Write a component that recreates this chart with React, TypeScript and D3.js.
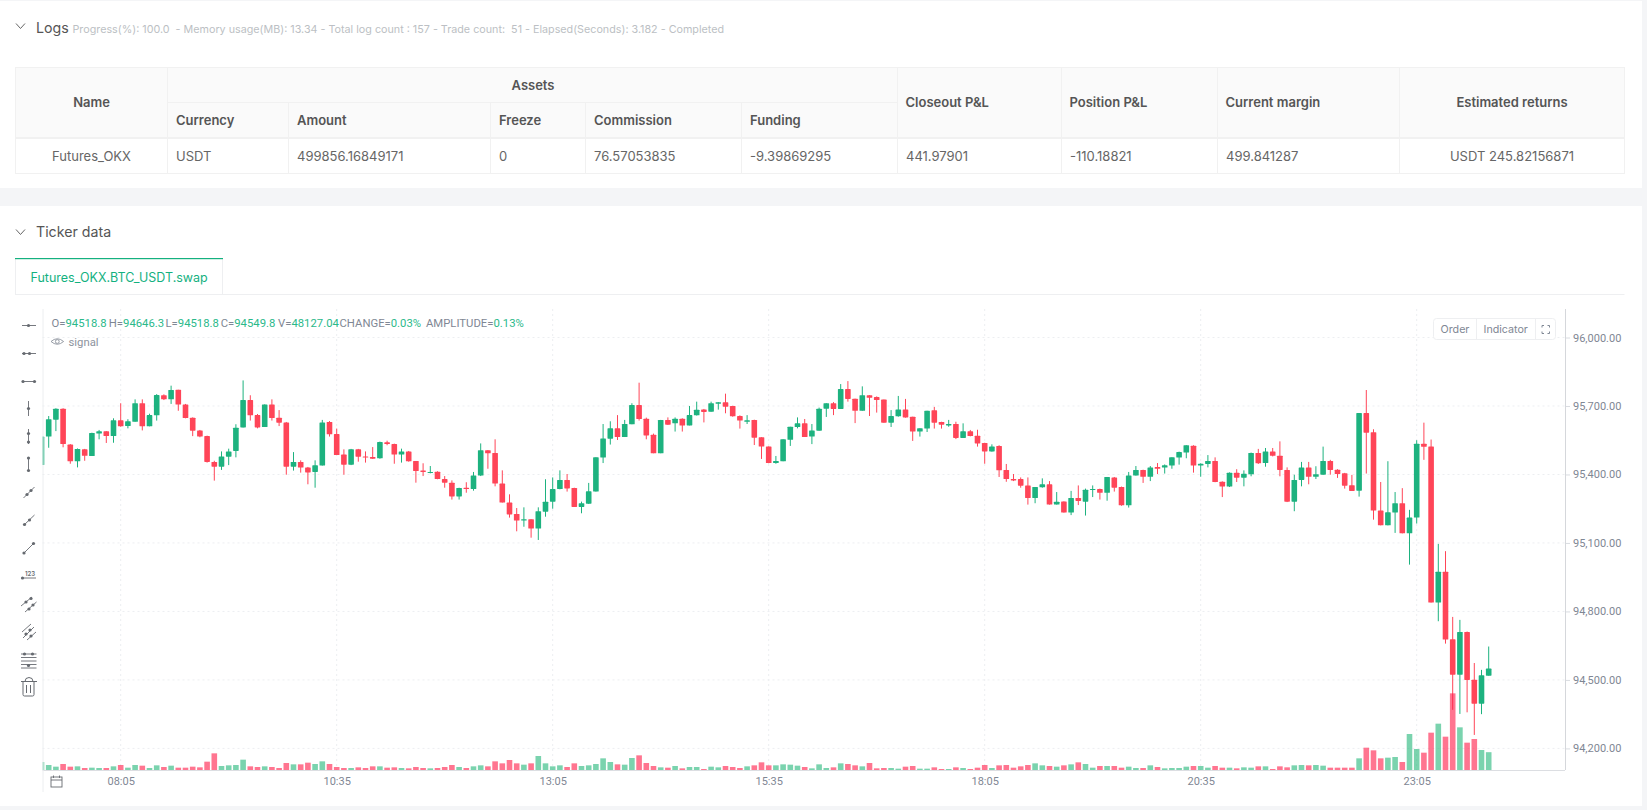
import React, { useEffect, useRef } from 'react';
import * as d3 from 'd3';

// candle index 0 is the 08:05 bar, the first ones sit left of it (5 min bars)
const firstIndex = -11;

const highs = [
  95566,95656,95690,95690,95533,95514,95512,95583,95595,95590,95646,
  95712,95642,95729,95729,95666,95752,95751,95789,95771,95709,
  95650,95595,95570,95460,95501,95513,95620,95812,95747,95665,
  95707,95729,95682,95630,95498,95462,95433,95462,95639,95634,
  95601,95510,95512,95512,95501,95520,95544,95548,95535,95513,
  95503,95459,95449,95437,95414,95393,95374,95342,95366,95411,
  95536,95507,95554,95418,95313,95253,95256,95204,95256,95379,
  95387,95418,95402,95342,95281,95363,95475,95621,95633,95660,
  95639,95712,95802,95649,95579,95639,95650,95650,95646,95700,
  95719,95687,95719,95717,95754,95701,95659,95660,95640,95563,
  95523,95481,95554,95609,95650,95643,95621,95693,95712,95717,
  95796,95809,95732,95786,95747,95742,95728,95682,95744,95731,
  95653,95602,95679,95696,95631,95639,95631,95624,95595,95596,
  95539,95532,95528,95446,95402,95387,95387,95345,95383,95371,
  95323,95282,95328,95352,95338,95352,95338,95389,95389,95347,
  95411,95437,95421,95437,95450,95444,95475,95500,95528,95528,
  95449,95485,95475,95370,95409,95423,95418,95496,95512,95516,
  95516,95545,95431,95399,95455,95455,95436,95522,95464,95423,
  95407,95398,95669,95770,95598,95367,95458,95323,95340,95245,
  95550,95627,95553,95096,95064,94776,94763,94712,94574,94544,94646.3,
];

const opens = [
  95441,95566,95640,95688,95531,95458,95510,95481,95579,95589,95568,
  95637,95612,95631,95712,95611,95659,95747,95729,95771,95707,
  95649,95593,95568,95455,95434,95478,95503,95606,95726,95660,
  95608,95707,95649,95628,95434,95455,95431,95411,95439,95630,
  95577,95487,95443,95510,95479,95477,95471,95541,95533,95487,
  95501,95459,95417,95408,95412,95380,95364,95304,95342,95336,
  95395,95506,95494,95360,95277,95227,95198,95204,95163,95237,
  95281,95336,95376,95341,95258,95272,95325,95474,95557,95602,
  95564,95620,95704,95644,95574,95493,95639,95624,95644,95615,
  95659,95685,95675,95710,95716,95700,95656,95631,95639,95563,
  95523,95450,95458,95552,95608,95624,95566,95592,95688,95712,
  95687,95774,95732,95679,95747,95739,95728,95627,95655,95685,
  95653,95588,95601,95681,95630,95615,95621,95560,95589,95570,
  95538,95501,95525,95420,95380,95380,95352,95297,95344,95357,
  95268,95282,95233,95297,95281,95332,95336,95320,95387,95345,
  95265,95395,95420,95390,95433,95430,95439,95474,95496,95526,
  95439,95446,95459,95368,95347,95408,95386,95401,95494,95450,
  95501,95482,95420,95281,95376,95431,95390,95399,95459,95421,
  95405,95353,95329,95669,95585,95242,95177,95233,95274,95142,
  95211,95535,95523,94839,94974,94678,94523,94710,94501,94396,94518.8,
];

const closes = [
  95566,95642,95688,95533,95458,95512,95482,95582,95589,95568,95637,
  95611,95633,95712,95611,95660,95748,95729,95770,95706,95647,
  95592,95566,95455,95434,95479,95501,95605,95726,95659,95606,
  95707,95647,95627,95434,95455,95430,95409,95440,95628,95576,
  95485,95443,95510,95478,95474,95469,95542,95533,95487,95501,
  95458,95415,95411,95411,95380,95364,95304,95341,95336,95396,
  95506,95493,95360,95277,95225,95198,95204,95163,95239,95281,
  95336,95376,95339,95258,95274,95326,95475,95558,95602,95564,
  95621,95704,95643,95571,95493,95639,95618,95644,95614,95660,
  95684,95674,95712,95716,95697,95655,95636,95637,95561,95522,
  95450,95459,95554,95609,95624,95564,95593,95688,95712,95687,
  95774,95731,95679,95747,95736,95726,95627,95656,95685,95650,
  95588,95602,95679,95627,95618,95621,95560,95589,95568,95536,
  95501,95522,95418,95380,95374,95351,95297,95345,95357,95268,
  95281,95233,95297,95284,95333,95336,95320,95389,95342,95265,
  95396,95420,95390,95431,95425,95440,95475,95498,95528,95439,
  95447,95459,95367,95347,95408,95386,95403,95494,95449,95501,
  95482,95420,95281,95376,95431,95390,95401,95459,95420,95402,
  95351,95328,95669,95583,95242,95177,95234,95274,95142,95211,
  95535,95521,94839,94974,94677,94523,94710,94500,94396,94520,94549.8,
];

const lows = [
  95441,95517,95590,95519,95447,95431,95460,95481,95554,95538,95539,
  95609,95602,95631,95593,95611,95636,95726,95709,95679,95646,
  95568,95563,95452,95373,95420,95441,95475,95606,95636,95602,
  95608,95636,95612,95399,95417,95408,95357,95342,95439,95566,
  95485,95399,95441,95456,95452,95468,95469,95528,95447,95452,
  95456,95364,95393,95405,95379,95342,95290,95290,95320,95329,
  95393,95425,95348,95277,95211,95151,95171,95123,95113,95215,
  95250,95335,95325,95258,95230,95271,95325,95450,95531,95551,
  95564,95620,95636,95554,95493,95493,95617,95588,95588,95615,
  95658,95628,95675,95684,95668,95653,95601,95621,95529,95468,
  95449,95447,95458,95525,95602,95564,95533,95592,95652,95660,
  95687,95719,95625,95679,95656,95671,95627,95608,95653,95649,
  95547,95566,95586,95601,95601,95609,95555,95560,95567,95522,
  95447,95500,95389,95368,95371,95342,95268,95274,95342,95268,
  95268,95233,95222,95266,95220,95301,95290,95285,95325,95263,
  95255,95395,95363,95371,95402,95404,95425,95443,95471,95408,
  95390,95431,95366,95301,95345,95367,95348,95392,95446,95434,
  95479,95392,95279,95239,95348,95357,95380,95399,95399,95385,
  95338,95328,95303,95404,95202,95177,95177,95144,95142,95005,
  95185,95464,94839,94757,94659,94369,94351,94358,94259,94350,94518.8,
];

// volume in thousands
const volumes = [
  21.6,13.5,9,16.2,9,9.9,5.4,6.3,5.4,5.4,9.9,
  13.5,6.3,13.5,11.7,5.4,12.6,8.1,11.7,6.3,6.3,
  9,7.2,22.5,45,10.8,12.6,13.5,27.9,9.9,8.1,
  9.9,8.1,5.4,18.9,15.3,15.3,19.8,16.2,23.4,16.2,
  8.1,5.4,5.4,7.2,5.4,9.9,9.9,6.3,7.2,5.4,
  4.5,8.1,5.4,4.5,5.4,8.1,13.5,8.1,5.4,9.9,
  12.6,9.9,23.4,18,27,18,14.4,18,37.8,18,
  9.9,12.6,8.1,18,10.8,12.6,16.2,31.5,21.6,15.3,
  14.4,32.4,39.6,18.9,10.8,7.2,6.3,10.8,4.5,8.1,
  8.1,2.7,9,7.2,10.8,8.1,5.4,9.9,12.6,20.7,
  12.6,12.6,15.3,14.4,11.7,8.1,4.5,15.3,5.4,7.2,
  18,16.2,12.6,9.9,18.9,4.5,5.4,5.4,3.6,9,
  10.8,3.6,3.6,7.2,2.7,2.7,7.2,5.4,2.7,6.3,
  13.5,5.4,12.6,13.5,6.3,9.9,13.5,18,12.6,10.8,
  9,12.6,15.3,20.7,16.2,6.3,10.8,10.8,10.8,6.3,
  9,5.4,5.4,12.6,8.1,4.5,5.4,5.4,9,10.8,
  10.8,6.3,10.8,6.3,6.3,4.5,7.2,6.3,9.9,9.9,
  2.7,9.9,7.2,12.6,13.5,12.6,13.5,11.7,6.3,6.3,
  6.3,6.3,31.5,60.3,53.1,31.5,33.3,35.1,21.6,97.2,
  56.7,46.8,100.8,125.1,90,207,115.2,73.8,83.7,54,48.1,
];

const priceTicks = [96000, 95700, 95400, 95100, 94800, 94500, 94200];
const timeTickIndex = [0, 30, 60, 90, 120, 150, 180];
const timeTickLabels = ['08:05', '10:35', '13:05', '15:35', '18:05', '20:35', '23:05'];

const tableHeadTop = ['Name', 'Assets', 'Closeout P&L', 'Position P&L', 'Current margin', 'Estimated returns'];
const tableHeadSub = ['Currency', 'Amount', 'Freeze', 'Commission', 'Funding'];
const tableRow = ['Futures_OKX', 'USDT', '499856.16849171', '0', '76.57053835', '-9.39869295', '441.97901', '-110.18821', '499.841287', 'USDT 245.82156871'];
const colEdges = [15.5, 167.5, 288.5, 490.5, 585.5, 741.5, 897.5, 1061.5, 1217.5, 1399.5, 1624.5];

const legendParts: [string, string][] = [
  ['O=', '94518.8'], ['H=', '94646.3'], ['L=', '94518.8'], ['C=', '94549.8'],
  ['V=', '48127.04'], ['CHANGE=', '0.03%'], ['AMPLITUDE=', '0.13%'],
];
const legendX = [51.5, 108.8, 165.5, 220.7, 278, 339.5, 426];

const FONT = 'Inter, "Noto Sans", sans-serif';
const AXIS_FONT = 'Roboto, "Noto Sans", sans-serif';
const UP = '#1db27f';
const DOWN = '#ff4558';
const UP_VOL = '#21b678';
const DOWN_VOL = '#ff1946';
const GRID = '#eceef1';
const AXIS_TEXT = '#7f8794';

const LEFT = 42.5;
const RIGHT = 1565;
const TOP = 309;
const BOTTOM = 770;

// drawing toolbar
const ink = '#666a70';
const Dot = ({ x, y }: { x: number; y: number }) => <circle cx={x} cy={y} r={1.6} fill={ink} />;
const Seg = ({ a, b, c, d }: { a: number; b: number; c: number; d: number }) => (
  <line x1={a} y1={b} x2={c} y2={d} stroke={ink} strokeWidth={0.9} />
);

const Toolbar = () => {
  const cx = 28.5;
  return (
    <g>
      <Seg a={22} b={325.5} c={36} d={325.5} /><Dot x={cx} y={325.5} />
      <Seg a={22} b={353.5} c={36} d={353.5} /><Dot x={24} y={353.5} /><Dot x={29.5} y={353.5} />
      <Seg a={22} b={381.5} c={35} d={381.5} /><Dot x={23} y={381.5} /><Dot x={34.5} y={381.5} />
      <Seg a={cx} b={401} c={cx} d={416} /><Dot x={cx} y={408.5} />
      <Seg a={cx} b={429} c={cx} d={444} /><Dot x={cx} y={433.5} /><Dot x={cx} y={442} />
      <Seg a={cx} b={458} c={cx} d={470} /><Dot x={cx} y={458} /><Dot x={cx} y={470.5} />
      <Seg a={23.5} b={498} c={34.5} d={487} /><Dot x={27} y={494.5} /><Dot x={31} y={490.5} />
      <Seg a={24} b={525} c={34.5} d={515} /><Dot x={24.5} y={524.5} /><Dot x={29.5} y={520} />
      <Seg a={24} b={553} c={33.5} d={543.5} /><Dot x={24} y={553} /><Dot x={33.5} y={543.5} />
      <Seg a={22} b={578} c={36} d={578} /><Dot x={22.5} y={578} />
      <text x={30} y={576} fontFamily={FONT} fontSize={6} fontWeight={600} fill={ink} textAnchor="middle">123</text>
      <Seg a={21} b={606} c={32} d={597} /><Seg a={25} b={612} c={36.5} d={602} />
      <Dot x={26} y={602} /><Dot x={31} y={598.5} /><Dot x={29} y={609} /><Dot x={33} y={605} />
      <Seg a={22} b={632} c={31} d={624} /><Seg a={23} b={638} c={34} d={627} /><Seg a={27} b={640} c={36} d={632} />
      <Dot x={26} y={634} /><Dot x={30} y={630} /><Dot x={31} y={636} />
      <Seg a={21} b={654} c={36.5} d={654} /><Seg a={21} b={657.5} c={36.5} d={657.5} />
      <Seg a={21} b={661} c={36.5} d={661} /><Seg a={21} b={664.5} c={36.5} d={664.5} /><Seg a={21} b={668} c={36.5} d={668} />
      <Dot x={24.5} y={654} /><Dot x={32.5} y={654} /><Dot x={28.5} y={665.5} />
      <g fill="none" stroke={ink} strokeWidth={1}>
        <path d="M21 681.5H37M25 681.5a3.5 3.5 0 0 1 8 0" />
        <path d="M23 682v12.5a1.5 1.5 0 0 0 1.5 1.5h8a1.5 1.5 0 0 0 1.5-1.5V682" />
        <path d="M26.5 685v8M30.5 685v8" />
      </g>
    </g>
  );
};

const Chevron = ({ x, y }: { x: number; y: number }) => (
  <path d={`M${x - 4.5} ${y - 2.5}L${x} ${y + 2.5}L${x + 4.5} ${y - 2.5}`} fill="none" stroke="#666" strokeWidth={1} />
);

const App = () => {
  const chartRef = useRef<SVGGElement>(null);

  useEffect(() => {
    if (!chartRef.current) return;
    const g = d3.select(chartRef.current);
    g.selectAll('*').remove(); // Clear previous

    // 7.2 px per bar, 08:05 at x = 120.7
    const x = d3.scaleLinear().domain([0, 180]).range([120.7, 1416.7]);
    const y = d3.scaleLinear().domain([96000, 94200]).range([337.5, 748.4]);
    const volY = d3.scaleLinear().domain([0, 270]).range([BOTTOM, BOTTOM - 100]);
    const bodyWidth = 5.6;

    const candles = opens.map((open, i) => ({
      index: firstIndex + i,
      open,
      close: closes[i],
      high: highs[i],
      low: lows[i],
      volume: volumes[i],
      up: closes[i] >= open,
    }));

    // grid
    const grid = g.append('g').attr('stroke', GRID).attr('stroke-dasharray', '2 3');
    grid.selectAll('line.h').data(priceTicks).join('line')
      .attr('class', 'h')
      .attr('x1', LEFT).attr('x2', RIGHT)
      .attr('y1', d => y(d)).attr('y2', d => y(d));
    grid.selectAll('line.v').data(timeTickIndex).join('line')
      .attr('class', 'v')
      .attr('x1', d => x(d)).attr('x2', d => x(d))
      .attr('y1', TOP).attr('y2', BOTTOM);

    const clip = g.append('g').attr('clip-path', 'url(#plot-clip)');

    // wicks
    clip.selectAll('line.wick').data(candles).join('line')
      .attr('class', 'wick')
      .attr('x1', d => x(d.index)).attr('x2', d => x(d.index))
      .attr('y1', d => y(d.high)).attr('y2', d => y(d.low))
      .attr('stroke', d => (d.up ? UP : DOWN))
      .attr('stroke-width', 1);

    // bodies
    clip.selectAll('rect.body').data(candles).join('rect')
      .attr('class', 'body')
      .attr('x', d => x(d.index) - bodyWidth / 2)
      .attr('width', bodyWidth)
      .attr('y', d => y(Math.max(d.open, d.close)))
      .attr('height', d => Math.max(1, Math.abs(y(d.open) - y(d.close))))
      .attr('rx', 0.6)
      .attr('fill', d => (d.up ? UP : DOWN));

    // volume
    clip.selectAll('rect.vol').data(candles).join('rect')
      .attr('class', 'vol')
      .attr('x', d => x(d.index) - bodyWidth / 2)
      .attr('width', bodyWidth)
      .attr('y', d => volY(d.volume))
      .attr('height', d => BOTTOM - volY(d.volume))
      .attr('fill', d => (d.up ? UP_VOL : DOWN_VOL))
      .attr('fill-opacity', 0.6);

    // axes
    const yAxis = d3.axisRight(y)
      .tickValues(priceTicks)
      .tickFormat(d3.format(',.2f') as any)
      .tickSize(5)
      .tickPadding(3);
    const yg = g.append('g').attr('transform', `translate(${RIGHT},0)`).call(yAxis as any);
    yg.select('.domain').remove();
    yg.selectAll('.tick line').attr('stroke', '#d9dce1');
    yg.selectAll('.tick text').attr('fill', AXIS_TEXT).attr('font-size', 11).attr('font-family', AXIS_FONT);

    const xAxis = d3.axisBottom(x)
      .tickValues(timeTickIndex)
      .tickFormat((_, i) => timeTickLabels[i])
      .tickSize(0)
      .tickPadding(7);
    const xg = g.append('g').attr('transform', `translate(0,${BOTTOM})`).call(xAxis as any);
    xg.select('.domain').remove();
    xg.selectAll('.tick text').attr('fill', AXIS_TEXT).attr('font-size', 11).attr('font-family', AXIS_FONT);

    // frame lines
    g.append('line').attr('x1', LEFT).attr('x2', RIGHT).attr('y1', BOTTOM + 0.5).attr('y2', BOTTOM + 0.5).attr('stroke', '#dcdee2');
    g.append('line').attr('x1', RIGHT + 0.5).attr('x2', RIGHT + 0.5).attr('y1', TOP).attr('y2', BOTTOM).attr('stroke', '#d5d7db');
    g.append('line').attr('x1', LEFT + 0.5).attr('x2', LEFT + 0.5).attr('y1', TOP).attr('y2', 792).attr('stroke', '#eceef0');
  }, []);

  const headStyle = { fontFamily: FONT, fontSize: 13, fontWeight: 600, fill: '#555' };
  const cellStyle = { fontFamily: FONT, fontSize: 13, fill: '#666' };

  return (
    <svg width={1647} height={810} style={{ position: 'fixed', left: 0, top: 0, display: 'block' }}>
      <defs>
        <clipPath id="plot-clip">
          <rect x={LEFT} y={TOP} width={RIGHT - LEFT} height={BOTTOM - TOP} />
        </clipPath>
      </defs>
      <rect width={1647} height={810} fill="#f4f5f7" />
      <rect x={0} y={1} width={1642} height={187} fill="#fff" />
      <rect x={0} y={206} width={1642} height={600} fill="#fff" />

      {/* Logs panel */}
      <Chevron x={20.5} y={26} />
      <text x={36} y={33} fontFamily={FONT} fontSize={14.2} fill="#555">Logs</text>
      <text x={72.5} y={32.5} fontFamily={FONT} fontSize={10.75} fill="#bcbfc4" xmlSpace="preserve">
        {'Progress(%): 100.0  - Memory usage(MB): 13.34 - Total log count : 157 - Trade count:  51 - Elapsed(Seconds): 3.182 - Completed'}
      </text>

      {/* table */}
      <rect x={15.5} y={67.5} width={1609} height={70} fill="#fafafa" />
      <g stroke="#f1f1f1" fill="none">
        <rect x={15.5} y={67.5} width={1609} height={106} />
        <line x1={167.5} x2={897.5} y1={102.5} y2={102.5} />
        <line x1={15.5} x2={1624.5} y1={138} y2={138} strokeWidth={2} />
        {colEdges.slice(1, -1).map((e, i) => (
          <line key={e} x1={e} x2={e} y1={i >= 1 && i <= 4 ? 102.5 : 67.5} y2={173.5} />
        ))}
      </g>
      <text x={91.5} y={106.5} textAnchor="middle" style={headStyle}>{tableHeadTop[0]}</text>
      <text x={533} y={89.5} textAnchor="middle" style={headStyle}>{tableHeadTop[1]}</text>
      <text x={905.5} y={106.5} style={headStyle}>{tableHeadTop[2]}</text>
      <text x={1069.5} y={106.5} style={headStyle}>{tableHeadTop[3]}</text>
      <text x={1225.5} y={106.5} style={headStyle}>{tableHeadTop[4]}</text>
      <text x={1512} y={106.5} textAnchor="middle" style={headStyle}>{tableHeadTop[5]}</text>
      {tableHeadSub.map((t, i) => (
        <text key={t} x={colEdges[i + 1] + 8.5} y={124.5} style={headStyle}>{t}</text>
      ))}
      {tableRow.map((t, i) => (
        <text
          key={t}
          x={i === 0 ? 91.5 : i === 9 ? 1512 : colEdges[i] + 8.5}
          y={160.5}
          textAnchor={i === 0 || i === 9 ? 'middle' : 'start'}
          style={cellStyle}
        >
          {t}
        </text>
      ))}

      {/* Ticker panel */}
      <Chevron x={20.5} y={232} />
      <text x={36} y={237} fontFamily={FONT} fontSize={14.2} fill="#555">Ticker data</text>
      <line x1={15} x2={1624.5} y1={294.5} y2={294.5} stroke="#eeeff1" />
      <rect x={15.5} y={258.5} width={207} height={36} fill="#fff" stroke="#eeeff1" />
      <rect x={15} y={258} width={208} height={1.2} fill="#14b17f" />
      <text x={30.5} y={281.5} fontFamily={FONT} fontSize={12.5} fill="#14b17f">Futures_OKX.BTC_USDT.swap</text>

      {/* chart */}
      <g ref={chartRef} />

      {/* ohlc legend */}
      <g fontFamily={AXIS_FONT} fontSize={11.3}>
        {legendParts.map(([k, v], i) => (
          <text key={k} x={legendX[i]} y={327.3}>
            <tspan fill="#7f8794">{k}</tspan>
            <tspan fill="#2bb98a">{v}</tspan>
          </text>
        ))}
      </g>
      <g fill="none" stroke="#8d939d" strokeWidth={0.9}>
        <path d="M51 341.5q6.3-5.5 12.6 0q-6.3 5.5-12.6 0z" />
        <circle cx={57.3} cy={341.5} r={1.9} />
      </g>
      <text x={68.5} y={345.5} fontFamily={AXIS_FONT} fontSize={11.3} fill="#8d939d">signal</text>

      {/* buttons */}
      <rect x={1433.5} y={318.5} width={122} height={21} rx={3} fill="#fff" stroke="#eeeff1" />
      <line x1={1476.5} x2={1476.5} y1={318.5} y2={339.5} stroke="#eeeff1" />
      <line x1={1535.5} x2={1535.5} y1={318.5} y2={339.5} stroke="#eeeff1" />
      <text x={1455} y={333.2} textAnchor="middle" fontFamily={FONT} fontSize={10.7} fill="#7f8794">Order</text>
      <text x={1505.7} y={333.2} textAnchor="middle" fontFamily={FONT} fontSize={10.7} fill="#7f8794">Indicator</text>
      <path
        d="M1542 327.5v-2h2M1549.5 327.5v-2h-2M1542 331.5v2h2M1549.5 331.5v2h-2"
        fill="none"
        stroke="#7f8794"
        strokeWidth={1}
      />

      {/* calendar */}
      <g fill="none" stroke="#666a70" strokeWidth={0.9}>
        <rect x={51} y={777} width={11} height={10} />
        <line x1={51} x2={62} y1={780} y2={780} />
        <path d="M53.5 775.5v2.5M59.5 775.5v2.5" />
      </g>

      <Toolbar />
    </svg>
  );
};

export default App;
